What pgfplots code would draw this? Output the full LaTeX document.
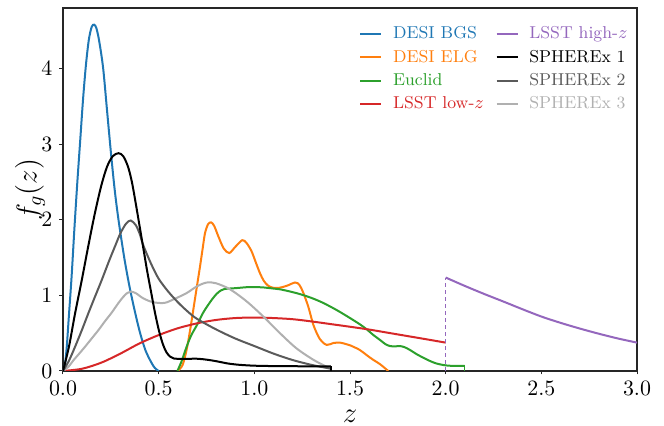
\documentclass[border=0pt]{standalone}
\usepackage{pgfplots}
\pgfplotsset{compat=1.18}
\definecolor{cB}{HTML}{1F77B4}
\definecolor{cO}{HTML}{FF7F0E}
\definecolor{cG}{HTML}{2CA02C}
\definecolor{cR}{HTML}{D62728}
\definecolor{cP}{HTML}{9467BD}
\definecolor{cS1}{HTML}{000000}
\definecolor{cS2}{HTML}{5A5A5A}
\definecolor{cS3}{HTML}{B0B0B0}
\begin{document}
\begin{tikzpicture}
\begin{axis}[
  scale only axis,
  width=287pt, height=181.5pt,
  xmin=0, xmax=3, ymin=0, ymax=4.8,
  xtick={0,0.5,1,1.5,2,2.5,3},
  ytick={0,1,2,3,4},
  xticklabel style={/pgf/number format/.cd, fixed, fixed zerofill, precision=1},
  ticklabel style={font=\fontsize{11}{13}\selectfont},
  tick pos=left,
  tick align=outside,
  major tick length=1.75pt,
  tick style={black!85, line width=0.5pt},
  axis line style={black!85, line width=0.6pt},
  xlabel={$z$},
  ylabel={$f_g(z)$},
  label style={font=\Large},
  xlabel style={at={(axis description cs:0.5,0)}, anchor=center, yshift=-22.5pt},
  ylabel style={at={([xshift=-16.5pt]axis description cs:0,0.5)}, anchor=center},
  every axis plot/.append style={line width=1pt},
  legend columns=2,
  legend cell align=left,
  legend image code/.code={\draw[#1] (0pt,0pt) -- (10.5pt,0pt);},
  legend style={draw=none, fill=none, font=\fontsize{8.6}{10}\selectfont,
    at={(rel axis cs:1,1)}, anchor=north east, xshift=0pt, yshift=-5pt,
    nodes={text height=6.5pt, text depth=1.6pt, inner sep=1.6pt},
    row sep=0.4pt,
    /tikz/every odd column/.append style={column sep=3.8pt},
    /tikz/every even column/.append style={column sep=4.3pt}},
]
% DESI BGS
\addplot[cB, smooth, tension=0.5, forget plot] coordinates {
(0,0) (0.01,0.08) (0.02,0.33) (0.03,0.70) (0.045,1.25) (0.06,1.9) (0.075,2.5)
(0.09,3.05) (0.105,3.6) (0.12,4.05) (0.135,4.38) (0.15,4.55) (0.163,4.58)
(0.175,4.53) (0.19,4.35) (0.21,4.0) (0.23,3.45) (0.25,2.9) (0.27,2.4) (0.29,2.0)
(0.32,1.5) (0.345,1.15) (0.37,0.85) (0.40,0.53) (0.43,0.28) (0.46,0.12) (0.48,0.04) (0.5,0)};
% DESI ELG
\addplot[cO, smooth, tension=0.5, forget plot] coordinates {
(0.6,0) (0.625,0.08) (0.646,0.28) (0.665,0.55) (0.681,0.81) (0.70,1.12) (0.716,1.38)
(0.73,1.62) (0.742,1.82) (0.758,1.94) (0.774,1.965) (0.79,1.92) (0.812,1.78)
(0.84,1.62) (0.869,1.56) (0.90,1.64) (0.937,1.73) (0.96,1.69) (0.986,1.58)
(1.01,1.42) (1.03,1.29) (1.05,1.19) (1.073,1.126) (1.10,1.10) (1.13,1.10)
(1.169,1.126) (1.213,1.17) (1.235,1.14) (1.255,1.04) (1.282,0.85) (1.31,0.60)
(1.343,0.42) (1.378,0.345) (1.413,0.37) (1.448,0.375) (1.48,0.355) (1.5,0.34)
(1.55,0.28) (1.587,0.21) (1.62,0.15) (1.657,0.09) (1.70,0)};
% Euclid
\addplot[cG, smooth, tension=0.5, forget plot] coordinates {
(0.598,0) (0.62,0.13) (0.646,0.32) (0.67,0.47) (0.705,0.63) (0.73,0.76) (0.755,0.86)
(0.78,0.95) (0.803,1.02) (0.825,1.065) (0.845,1.085) (0.90,1.095) (0.96,1.108)
(1.0,1.11) (1.047,1.105) (1.10,1.09) (1.134,1.08) (1.18,1.055) (1.22,1.03)
(1.26,1.0) (1.31,0.955) (1.36,0.90) (1.413,0.83) (1.448,0.78) (1.5,0.70)
(1.55,0.62) (1.587,0.552) (1.62,0.48) (1.657,0.41) (1.685,0.355) (1.709,0.33)
(1.735,0.325) (1.76,0.33) (1.785,0.315) (1.812,0.28) (1.85,0.22) (1.882,0.177)
(1.92,0.13) (1.951,0.10) (1.99,0.078) (2.03,0.068) (2.1,0.066)};
\addplot[cG, line width=0.5pt, forget plot] coordinates {(2.1,0.066) (2.1,0)};
% LSST low-z
\addplot[cR, smooth, tension=0.5, forget plot] coordinates {
(0,0) (0.1,0.03) (0.2,0.11) (0.3,0.23) (0.4,0.365) (0.5,0.475) (0.6,0.565)
(0.7,0.63) (0.8,0.675) (0.9,0.70) (1.0,0.707) (1.1,0.70) (1.2,0.685) (1.3,0.655)
(1.4,0.62) (1.5,0.585) (1.6,0.548) (1.7,0.505) (1.8,0.462) (1.9,0.419) (2.0,0.375)};
% LSST high-z
\addplot[cP, line width=0.5pt, dash pattern=on 2pt off 1.5pt, forget plot] coordinates {(2.0,0) (2.0,1.236)};
\addplot[cP, smooth, tension=0.5, forget plot] coordinates {
(2.0,1.236) (2.1,1.125) (2.2,1.02) (2.3,0.92) (2.4,0.818) (2.5,0.72) (2.6,0.637)
(2.7,0.562) (2.8,0.493) (2.9,0.430) (3.0,0.375)};
% SPHEREx 3
\addplot[cS3, smooth, tension=0.5, forget plot] coordinates {
(0,0) (0.03,0.06) (0.054,0.14) (0.085,0.23) (0.115,0.32) (0.15,0.43) (0.185,0.54)
(0.22,0.66) (0.254,0.77) (0.29,0.9) (0.315,0.98) (0.335,1.03) (0.354,1.05)
(0.38,1.03) (0.42,0.96) (0.47,0.91) (0.53,0.90) (0.58,0.95) (0.646,1.03)
(0.70,1.12) (0.751,1.17) (0.80,1.16) (0.873,1.08) (0.96,0.92) (1.047,0.72)
(1.134,0.50) (1.22,0.30) (1.31,0.146) (1.378,0.057) (1.4,0.04)};
\addplot[cS3, line width=0.5pt, forget plot] coordinates {(1.4,0.04) (1.4,0)};
% SPHEREx 2
\addplot[cS2, smooth, tension=0.5, forget plot] coordinates {
(0,0) (0.03,0.13) (0.063,0.32) (0.1,0.55) (0.132,0.76) (0.17,1.0) (0.202,1.2)
(0.24,1.45) (0.272,1.65) (0.30,1.82) (0.33,1.95) (0.354,1.99) (0.38,1.93)
(0.40,1.82) (0.42,1.66) (0.46,1.42) (0.50,1.22) (0.55,1.05) (0.60,0.91)
(0.65,0.79) (0.70,0.69) (0.80,0.55) (0.90,0.43) (1.0,0.33) (1.1,0.23)
(1.2,0.145) (1.3,0.08) (1.4,0.03)};
\addplot[cS2, line width=0.5pt, forget plot] coordinates {(1.4,0.03) (1.4,0)};
% SPHEREx 1
\addplot[cS1, smooth, tension=0.5, forget plot] coordinates {
(0,0) (0.031,0.32) (0.063,0.76) (0.098,1.2) (0.132,1.65) (0.167,2.09) (0.2,2.45)
(0.23,2.7) (0.26,2.84) (0.29,2.88) (0.315,2.84) (0.34,2.7) (0.36,2.5) (0.38,2.22)
(0.40,1.92) (0.42,1.62) (0.44,1.32) (0.46,1.05) (0.48,0.78) (0.50,0.55)
(0.52,0.37) (0.54,0.25) (0.56,0.19) (0.58,0.165) (0.62,0.16) (0.70,0.162)
(0.75,0.15) (0.80,0.13) (0.86,0.10) (0.92,0.082) (1.0,0.07) (1.1,0.065)
(1.2,0.063) (1.3,0.062) (1.4,0.06)};
\addplot[cS1, line width=0.7pt, forget plot] coordinates {(1.4,0.06) (1.4,0)};
% legend
\addlegendimage{cB, line width=1pt}
\addlegendentry{\textcolor{cB}{DESI BGS}}
\addlegendimage{cP, line width=1pt}
\addlegendentry{\textcolor{cP}{LSST high-$z$}}
\addlegendimage{cO, line width=1pt}
\addlegendentry{\textcolor{cO}{DESI ELG}}
\addlegendimage{cS1, line width=1pt}
\addlegendentry{\textcolor{cS1}{SPHEREx 1}}
\addlegendimage{cG, line width=1pt}
\addlegendentry{\textcolor{cG}{Euclid}}
\addlegendimage{cS2, line width=1pt}
\addlegendentry{\textcolor{cS2}{SPHEREx 2}}
\addlegendimage{cR, line width=1pt}
\addlegendentry{\textcolor{cR}{LSST low-$z$}}
\addlegendimage{cS3, line width=1pt}
\addlegendentry{\textcolor{cS3}{SPHEREx 3}}
\coordinate (ll) at (rel axis cs:0,0);
\coordinate (ur) at (rel axis cs:1,1);
\end{axis}
\pgfresetboundingbox
\path ([shift={(-31.5pt,-27.5pt)}]ll) rectangle ([shift={(13.5pt,4pt)}]ur);
\end{tikzpicture}
\end{document}
